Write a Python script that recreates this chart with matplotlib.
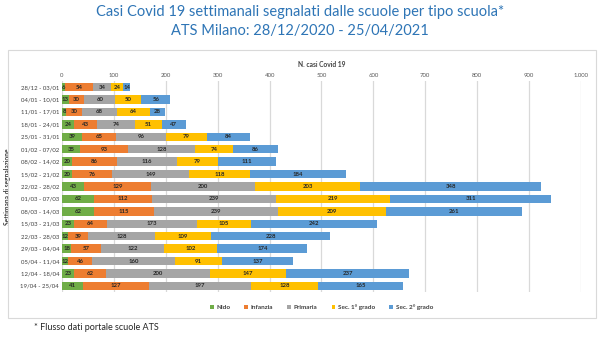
import numpy as np
import matplotlib
matplotlib.use("Agg")
import matplotlib.pyplot as plt
from matplotlib.patches import Rectangle

plt.rcParams['font.family'] = ['Lato', 'DejaVu Sans']

# weekly reporting periods (top to bottom)
weeks = ['28/12 - 03/01', '04/01 - 10/01', '11/01 - 17/01', '18/01 - 24/01',
         '25/01 - 31/01', '01/02 - 07/02', '08/02 - 14/02', '15/02 - 21/02',
         '22/02 - 28/02', '01/03 - 07/03', '08/03 - 14/03', '15/03 - 21/03',
         '22/03 - 28/03', '29/03 - 04/04', '05/04 - 11/04', '12/04 - 18/04',
         '19/04 - 25/04']

nido = [6, 13, 8, 24, 39, 35, 20, 20, 43, 62, 62, 23, 12, 18, 12, 23, 41]
infanzia = [54, 30, 30, 43, 65, 93, 86, 76, 129, 112, 115, 64, 39, 57, 46, 62, 127]
primaria = [34, 60, 68, 74, 96, 128, 116, 149, 200, 239, 239, 173, 128, 122, 160, 200, 197]
sec1 = [24, 50, 64, 51, 79, 74, 79, 118, 203, 219, 209, 105, 109, 102, 91, 147, 128]
sec2 = [14, 56, 28, 47, 84, 86, 111, 184, 348, 311, 261, 242, 228, 174, 137, 237, 165]

series_names = ['Nido', 'Infanzia', 'Primaria', 'Sec. 1° grado', 'Sec. 2° grado']
colors = ['#70AD47', '#ED7D31', '#A5A5A5', '#FFC000', '#5B9BD5']

xticks = [0, 100, 200, 300, 400, 500, 600, 700, 800, 900, 1000]
xticklabels = ['0', '100', '200', '300', '400', '500', '600', '700', '800', '900', '1.000']

fig = plt.figure(figsize=(6, 3.37), dpi=100)
ax = fig.add_axes([0.1033, 0.133, 0.865, 0.627])

y = np.arange(len(weeks))
left = np.zeros(len(weeks))
for name, vals, col in zip(series_names, [nido, infanzia, primaria, sec1, sec2], colors):
    vals = np.array(vals)
    bars = ax.barh(y, vals, left=left, height=0.68, color=col, label=name, zorder=3)
    for b, v in zip(bars, vals):
        ax.text(b.get_x() + b.get_width() / 2, b.get_y() + b.get_height() / 2, str(v),
                ha='center', va='center', fontsize=4.3, fontweight='bold',
                color='#262626', zorder=4)
    left += vals

ax.set_ylim(len(weeks) - 0.5, -0.5)
ax.set_xlim(0, 1000)
ax.set_yticks(y)
ax.set_yticklabels(weeks, fontsize=4.3, color='#404040')
ax.set_xticks(xticks)
ax.set_xticklabels(xticklabels, fontsize=4.3, color='#595959')
ax.xaxis.tick_top()
ax.tick_params(length=0, pad=2)
ax.grid(axis='x', color='#D9D9D9', linewidth=0.9, zorder=0)
for s in ax.spines.values():
    s.set_visible(False)

ax.set_ylabel('Settimana di segnalazione', fontsize=4.8, fontweight='bold', color='#404040')
ax.yaxis.set_label_coords(-0.098, 0.5)
fig.text(0.5 * (0.1033 + 0.968), 0.81, 'N. casi Covid 19', ha='center', va='center',
         fontsize=4.8, fontweight='bold', color='#404040')

leg = ax.legend(loc='upper center', bbox_to_anchor=(0.5, -0.03), ncol=5, frameon=False,
                fontsize=4.6, handlelength=0.6, handleheight=0.6, columnspacing=2.2,
                handletextpad=0.4)
for t in leg.get_texts():
    t.set_fontweight('bold')
    t.set_color('#404040')

# chart frame
fig.patches.append(Rectangle((8 / 600, 1 - 318 / 337), 588 / 600, 268 / 337,
                             transform=fig.transFigure, fill=False,
                             edgecolor='#D9D9D9', linewidth=0.8))

fig.text(0.5, 1 - 12 / 337, 'Casi Covid 19 settimanali segnalati dalle scuole per tipo scuola*',
         ha='center', va='center', fontsize=10.5, color='#2E75B6')
fig.text(0.5, 1 - 31 / 337, 'ATS Milano: 28/12/2020 - 25/04/2021',
         ha='center', va='center', fontsize=10.5, color='#2E75B6')
fig.text(34 / 600, 1 - 327 / 337, '* Flusso dati portale scuole ATS',
         ha='left', va='center', fontsize=6.5, color='#262626')

fig.savefig('out.png', dpi=100, facecolor='white')
